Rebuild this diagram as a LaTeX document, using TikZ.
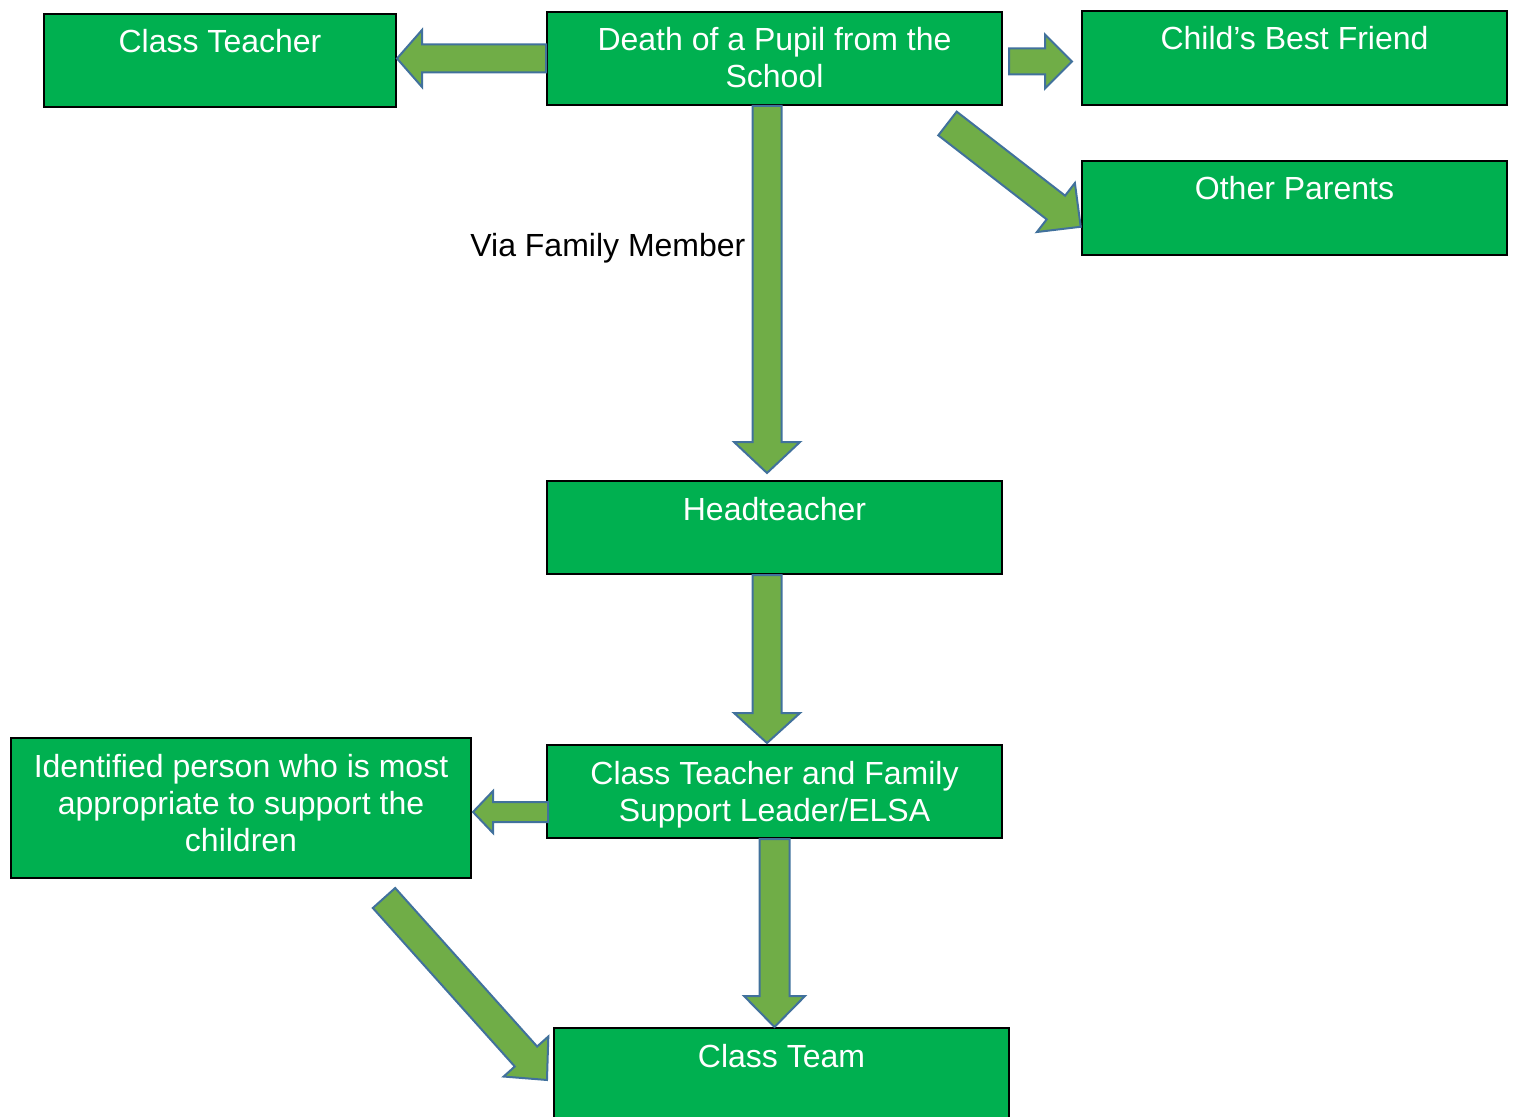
\documentclass[tikz,border=0pt]{standalone}
\usepackage{fontspec}
\setmainfont{Liberation Sans}
\usetikzlibrary{calc}
\definecolor{boxgreen}{HTML}{00B050}
\definecolor{arrowgreen}{HTML}{70AD47}
\definecolor{arrowblue}{HTML}{41719C}
\newcommand{\blockarrow}[5]{%
	\draw[fat] let \p1=(#1), \p2=(#2), \n1={atan2(\y2-\y1,\x2-\x1)}, \n2={veclen(\x2-\x1,\y2-\y1)} in
		[shift={(\p1)}, rotate=\n1] (0pt,-#3pt) -- ({\n2*1pt-#5pt},-#3pt) -- ({\n2*1pt-#5pt},-#4pt) -- ({\n2*1pt},0pt)
		-- ({\n2*1pt-#5pt},#4pt) -- ({\n2*1pt-#5pt},#3pt) -- (0pt,#3pt) -- cycle;
}
\begin{document}
\begin{tikzpicture}[x=0.5pt, y=-0.5pt,
		box/.style={draw=black, line width=1pt, fill=boxgreen, rectangle, inner sep=0pt, anchor=north west},
		lbl/.style={text=white, font=\fontsize{16}{18.5}\selectfont, align=center, inner sep=0pt, anchor=base},
		fat/.style={draw=arrowblue, fill=arrowgreen, line width=1pt}]
		\useasboundingbox (0,0) rectangle (1518,1117);
		\clip (0,0) rectangle (1518,1117);
		\node[box, minimum width=176pt, minimum height=46.5pt] (ct) at (43,13) {};
		\node[box, minimum width=227.5pt, minimum height=46.5pt] (death) at (546,11) {};
		\node[box, minimum width=212.5pt, minimum height=47pt] (bf) at (1081,10) {};
		\node[box, minimum width=212.5pt, minimum height=47pt] (op) at (1081,160) {};
		\node[box, minimum width=227.5pt, minimum height=46.5pt] (head) at (546,480) {};
		\node[box, minimum width=227.5pt, minimum height=46.5pt] (ctf) at (546,744) {};
		\node[box, minimum width=230pt, minimum height=70pt] (idp) at (10,737) {};
		\node[box, minimum width=227.5pt, minimum height=46.5pt] (ctm) at (553,1027) {};
		\node[lbl] (ct-t) at ($(ct.north)+(0,40)$) {Class Teacher};
		\node[lbl] (death-t) at ($(death.north)+(0,77)$) {Death of a Pupil from the\\School};
		\node[lbl] (bf-t) at ($(bf.north)+(0,40)$) {Child’s Best Friend};
		\node[lbl] (op-t) at ($(op.north)+(0,40)$) {Other Parents};
		\node[lbl] (head-t) at ($(head.north)+(0,40)$) {Headteacher};
		\node[lbl] (ctf-t) at ($(ctf.north)+(0,77)$) {Class Teacher and Family\\Support Leader/ELSA};
		\node[lbl] (idp-t) at ($(idp.north)+(0,114)$) {Identified person who is most\\appropriate to support the\\children};
		\node[lbl] (ctm-t) at ($(ctm.north)+(0,40)$) {Class Team};
		\node[lbl, text=black, anchor=base west] (via) at (470,257) {Via Family Member};
		\blockarrow{death.west}{death.west -| ct.east}{7}{14.25}{12.5}
		\blockarrow{$(death.east)+(6,3)$}{$(death.east -| bf.west)+(-9,3)$}{6.5}{13.5}{13.5}
		\blockarrow{$(death.south east)+(-55.5,17.5)$}{$(op.west)+(0,19)$}{7.5}{15.5}{15.7}
		\blockarrow{$(death.south)+(-7.5,0)$}{$(head.north)+(-7.5,-7)$}{7.25}{16.5}{15.5}
		\blockarrow{$(head.south)+(-7.5,0)$}{$(ctf.north)+(-7.5,-1)$}{7.25}{16.5}{15}
		\blockarrow{$(ctf.west)+(2,20.5)$}{$(ctf.west -| idp.east)+(1,20.5)$}{5}{10.5}{10}
		\blockarrow{ctf.south}{ctf.south |- ctm.north}{7.5}{15.25}{15.5}
		\blockarrow{$(idp.south)+(143,19)$}{$(ctm.north west)+(-6,53)$}{7.5}{15}{15.75}
	\end{tikzpicture}
\end{document}
